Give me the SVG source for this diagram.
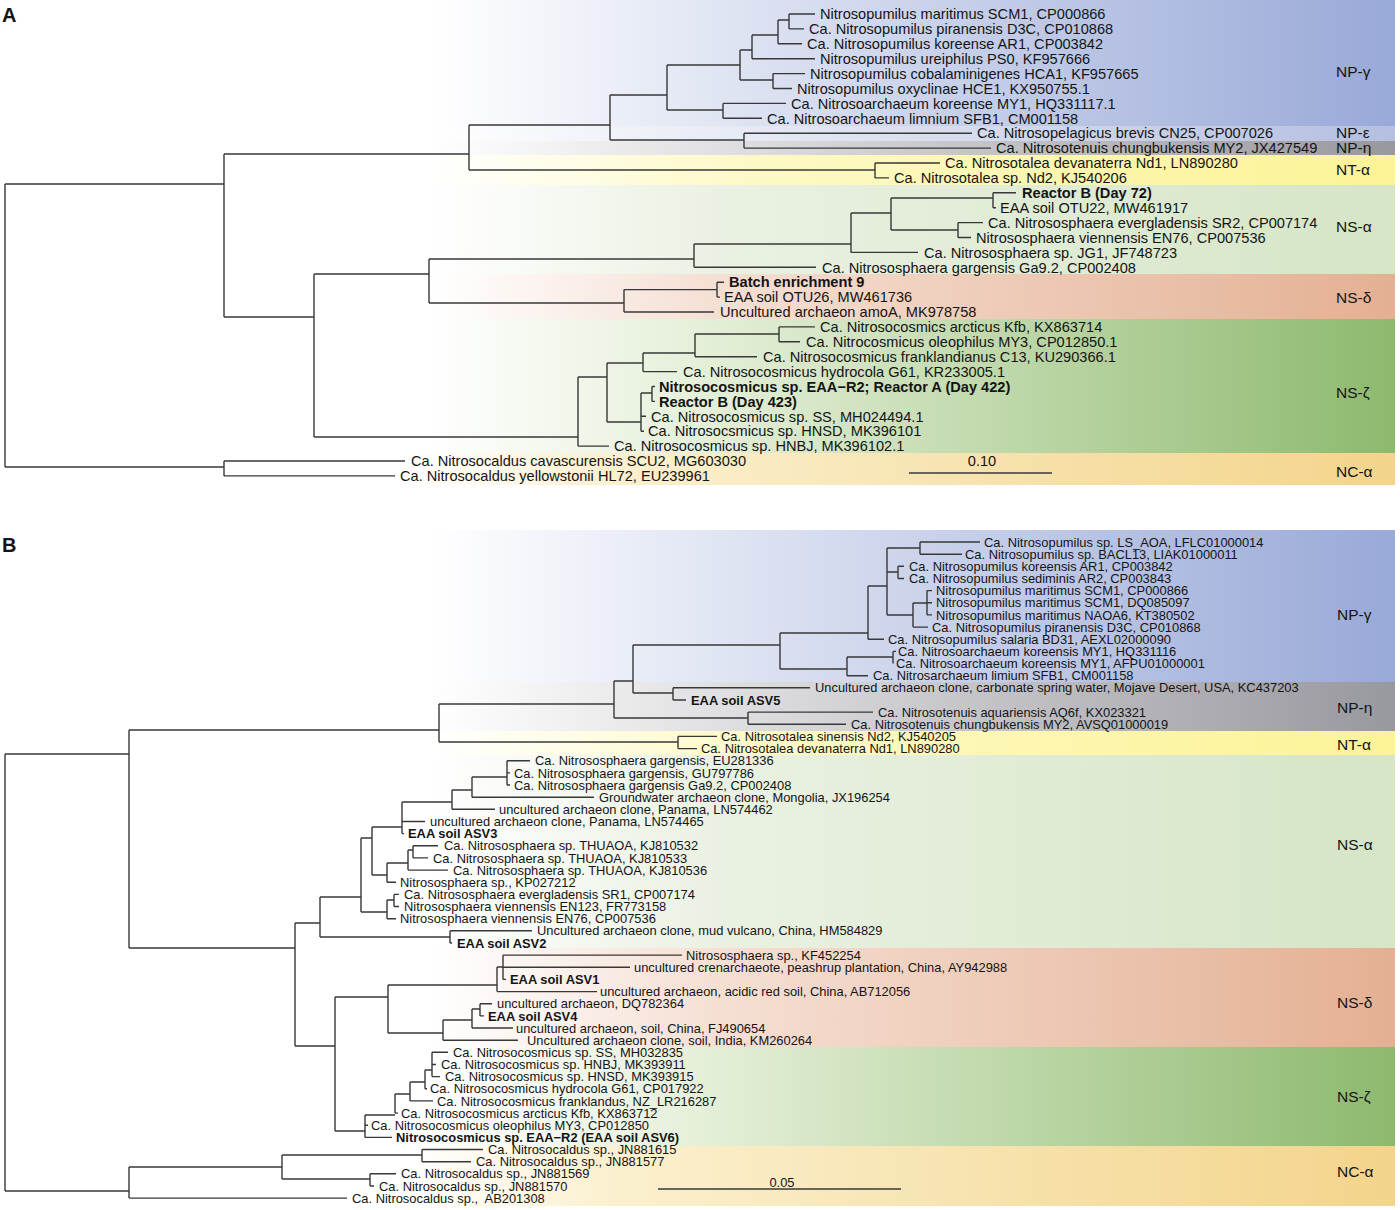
<svg xmlns="http://www.w3.org/2000/svg" width="1400" height="1210" viewBox="0 0 1400 1210">
<style>
text{font-family:"Liberation Sans",Arial,sans-serif;fill:#141414}
.ta{font-size:14.6px}
.tb{font-size:12.9px}
.b{font-weight:bold}
.cl{font-size:15.5px}
.pl{font-size:20px;font-weight:bold}
.br{fill:none;stroke:#383838;stroke-width:1.4}
</style>
<defs>
<linearGradient id="gNPg" gradientUnits="userSpaceOnUse" x1="430" y1="0" x2="1395" y2="0"><stop offset="0" stop-color="#fff"/><stop offset="1" stop-color="#99a9d8"/></linearGradient>
<linearGradient id="gNPe" gradientUnits="userSpaceOnUse" x1="430" y1="0" x2="1395" y2="0"><stop offset="0" stop-color="#fff"/><stop offset="1" stop-color="#b5bfdf"/></linearGradient>
<linearGradient id="gNPh" gradientUnits="userSpaceOnUse" x1="430" y1="0" x2="1395" y2="0"><stop offset="0" stop-color="#fff"/><stop offset="1" stop-color="#98989f"/></linearGradient>
<linearGradient id="gNT" gradientUnits="userSpaceOnUse" x1="430" y1="0" x2="1395" y2="0"><stop offset="0" stop-color="#fff"/><stop offset="0.35" stop-color="#fdf9c4"/><stop offset="1" stop-color="#fcf396"/></linearGradient>
<linearGradient id="gNSa" gradientUnits="userSpaceOnUse" x1="430" y1="0" x2="1395" y2="0"><stop offset="0" stop-color="#fff"/><stop offset="0.3" stop-color="#eaf1e2"/><stop offset="1" stop-color="#d5e5c6"/></linearGradient>
<linearGradient id="gNSd" gradientUnits="userSpaceOnUse" x1="430" y1="0" x2="1395" y2="0"><stop offset="0" stop-color="#fff"/><stop offset="0.3" stop-color="#f5dfd3"/><stop offset="1" stop-color="#e4b093"/></linearGradient>
<linearGradient id="gNSz" gradientUnits="userSpaceOnUse" x1="430" y1="0" x2="1395" y2="0"><stop offset="0" stop-color="#fff"/><stop offset="0.3" stop-color="#e3eed6"/><stop offset="1" stop-color="#8db96e"/></linearGradient>
<linearGradient id="gNC" gradientUnits="userSpaceOnUse" x1="410" y1="0" x2="1395" y2="0"><stop offset="0" stop-color="#fff"/><stop offset="0.2" stop-color="#fbf0cf"/><stop offset="1" stop-color="#f3d48b"/></linearGradient>
</defs>
<rect width="1400" height="1210" fill="#fff"/>

<g id="bands-A">
<rect x="430" y="0" width="965" height="126" fill="url(#gNPg)"/>
<rect x="430" y="126" width="965" height="15" fill="url(#gNPe)"/>
<rect x="430" y="141" width="965" height="14" fill="url(#gNPh)"/>
<rect x="430" y="155" width="965" height="30" fill="url(#gNT)"/>
<rect x="430" y="185" width="965" height="89" fill="url(#gNSa)"/>
<rect x="430" y="274" width="965" height="45" fill="url(#gNSd)"/>
<rect x="430" y="319" width="965" height="134" fill="url(#gNSz)"/>
<rect x="410" y="453" width="985" height="32" fill="url(#gNC)"/>
</g>
<g id="bands-B">
<rect x="420" y="530" width="975" height="152" fill="url(#gNPg)"/>
<rect x="420" y="682" width="975" height="49" fill="url(#gNPh)"/>
<rect x="420" y="731" width="975" height="24" fill="url(#gNT)"/>
<rect x="420" y="755" width="975" height="193" fill="url(#gNSa)"/>
<rect x="420" y="948" width="975" height="99" fill="url(#gNSd)"/>
<rect x="420" y="1047" width="975" height="99" fill="url(#gNSz)"/>
<rect x="410" y="1146" width="985" height="60" fill="url(#gNC)"/>
</g>

<g id="connectors-A" class="br">
<path d="M5,184V467M5,184H224M5,467H224M224,461V475.9M224,461H405M224,475.9H395M224,154V317M224,154H469"/>
<path d="M469,125V170M469,170H875M875,163V177.9M875,163H940M875,177.9H889M469,125H610M610,95V140M610,140H744M744,133.2V148.1M744,133.2H972M744,148.1H991M610,95H667M667,65V110M667,110H723M723,103.4V118.3M723,103.4H786M723,118.3H762M667,65H740M740,50V80M740,80H773M773,73.6V88.5M773,73.6H805M773,88.5H792M740,50H752M752,35V58.7M752,58.7H815M752,35H778M778,20V43.8M778,43.8H802M778,20H789M789,14V28.9M789,14H815M789,28.9H804"/>
<path d="M224,317H314M314,274V437M314,274H429M429,259V303M429,259H694M694,244V267.3M694,267.3H816M694,244H851M851,213V252.4M851,252.4H918M851,213H891M891,198V230M891,198H993M993,192.8V207.7M993,192.8H1016M993,207.7H996M891,230H958M958,222.6V237.5M958,222.6H983M958,237.5H971"/>
<path d="M429,303H624M624,289.6V312M624,289.6H717M717,282.2V297.1M717,282.2H724M717,297.1H720M624,312H714"/>
<path d="M314,437H578M578,377V446.1M578,446.1H609M578,377H607M607,363V422M607,363H643M643,353V371.6M643,371.6H677M643,353H695M695,334V356.7M695,356.7H757M695,334H779M779,326.9V341.8M779,326.9H815M779,341.8H800M607,422H641M641,393V431.2M641,393H652M652,386.5V401.4M652,386.5H655M652,401.4H655M641,416.3H646M641,431.2H644"/>
<path d="M909,473H1052"/>
</g>

<g id="connectors-B" class="br">
<path d="M5,754V1191M5,754H129M5,1191H129"/>
<path d="M129,730V948M129,730H439M439,704V742M439,742H678M678,736.4V748.6M678,736.4H717M678,748.6H697M439,704H614M614,681V718M614,718H748M748,712.1V724.3M748,712.1H873M748,724.3H846M614,681H633M633,645V693M633,693H673M673,687.8V700M673,687.8H810M673,700H686M633,645H780M780,633V669M780,669H847M847,657V675.7M847,675.7H868M847,657H893M893,651.4V663.5M893,651.4H896"/>
<path d="M780,633H868M868,586V639.2M868,639.2H884M868,586H887M887,548V615M887,548H920M920,542V554.2M920,542H980M920,554.2H962M887,572H898M898,566.3V578.5M898,566.3H904M898,578.5H904M887,615H913M913,603V627.1M913,627.1H928M913,603H927M927,590.6V614.9M927,590.6H932M927,602.8H932M927,614.9H932"/>
<path d="M129,948H295M295,923V1046M295,923H320M320,897V937M320,937H450M450,930.8V943M450,930.8H532M450,943H452M320,897H361M361,838V912M361,838H372M372,827V875M372,827H402M402,802V833.6M402,821.5H425M402,833.6H404M402,802H452M452,790V809.3M452,809.3H495M452,790H472M472,777V797.2M472,797.2H594M472,777H507M507,760.7V785M507,760.7H530M507,772.9H510M507,785H510"/>
<path d="M372,875H387M387,863V882.2M387,882.2H396M387,863H408M408,850V870.1M408,870.1H448M408,850H413M413,845.8V857.9M413,845.8H438M413,857.9H428M361,912H387M387,900V918.7M387,918.7H396M387,900H394M394,894.4V906.5M394,894.4H399M394,906.5H399"/>
<path d="M295,1046H335M335,997V1131M335,997H388M388,985V1033M388,985H497M497,967V991.6M497,991.6H597M497,967H503M503,955.1V979.4M503,955.1H682M503,967.3H630M503,979.4H506M388,1033H443M443,1020V1040.2M443,1040.2H518M443,1020H472M472,1009V1028M472,1028H513M472,1009H480M480,1003.7V1015.9M480,1003.7H492M480,1015.9H484"/>
<path d="M335,1131H365M365,1115V1137.4M365,1137.4H392M365,1125.2H368M365,1115H395M395,1094V1113.1M395,1113.1H398M395,1094H410M410,1082V1100.9M410,1100.9H433M410,1082H425M425,1070V1088.8M425,1088.8H427M425,1070H432M432,1052.3V1076.6M432,1052.3H448M432,1064.5H436M432,1076.6H440"/>
<path d="M129,1167V1198.1M129,1198.1H347M129,1167H282M282,1155V1179M282,1155H422M422,1149.5V1161.7M422,1149.5H483M422,1161.7H471M282,1179H370M370,1173.8V1186M370,1173.8H396M370,1186H374"/>
<path d="M658,1189H901"/>
</g>

<g id="panel-labels">
<text class="pl" x="2" y="22">A</text>
<text class="pl" x="2" y="552">B</text>
<text class="ta" x="982" y="466" text-anchor="middle">0.10</text>
<text class="tb" x="782" y="1187" text-anchor="middle">0.05</text>
</g>

<g id="clade-labels">
<text class="cl" x="1336" y="77">NP-γ</text>
<text class="cl" x="1336" y="138">NP-ε</text>
<text class="cl" x="1336" y="153">NP-η</text>
<text class="cl" x="1336" y="175">NT-α</text>
<text class="cl" x="1336" y="232">NS-α</text>
<text class="cl" x="1336" y="303">NS-δ</text>
<text class="cl" x="1336" y="398">NS-ζ</text>
<text class="cl" x="1336" y="477">NC-α</text>
<text class="cl" x="1337" y="620">NP-γ</text>
<text class="cl" x="1337" y="713">NP-η</text>
<text class="cl" x="1337" y="750">NT-α</text>
<text class="cl" x="1337" y="850">NS-α</text>
<text class="cl" x="1337" y="1008">NS-δ</text>
<text class="cl" x="1337" y="1102">NS-ζ</text>
<text class="cl" x="1337" y="1177">NC-α</text>
</g>

<g id="leaves-A">
<g id="a1"><text class="ta" x="820" y="19.2">Nitrosopumilus maritimus SCM1, CP000866</text></g>
<g id="a2"><text class="ta" x="809" y="34.1">Ca. Nitrosopumilus piranensis D3C, CP010868</text></g>
<g id="a3"><text class="ta" x="807" y="49">Ca. Nitrosopumilus koreense AR1, CP003842</text></g>
<g id="a4"><text class="ta" x="820" y="63.9">Nitrosopumilus ureiphilus PS0, KF957666</text></g>
<g id="a5"><text class="ta" x="810" y="78.8">Nitrosopumilus cobalaminigenes HCA1, KF957665</text></g>
<g id="a6"><text class="ta" x="797" y="93.7">Nitrosopumilus oxyclinae HCE1, KX950755.1</text></g>
<g id="a7"><text class="ta" x="791" y="108.6">Ca. Nitrosoarchaeum koreense MY1, HQ331117.1</text></g>
<g id="a8"><text class="ta" x="767" y="123.5">Ca. Nitrosoarchaeum limnium SFB1, CM001158</text></g>
<g id="a9"><text class="ta" x="977" y="138.4">Ca. Nitrosopelagicus brevis CN25, CP007026</text></g>
<g id="a10"><text class="ta" x="996" y="153.3">Ca. Nitrosotenuis chungbukensis MY2, JX427549</text></g>
<g id="a11"><text class="ta" x="945" y="168.2">Ca. Nitrosotalea devanaterra Nd1, LN890280</text></g>
<g id="a12"><text class="ta" x="894" y="183.1">Ca. Nitrosotalea sp. Nd2, KJ540206</text></g>
<g id="a13"><text class="ta b" x="1022" y="198">Reactor B (Day 72)</text></g>
<g id="a14"><text class="ta" x="1000" y="212.9">EAA soil OTU22, MW461917</text></g>
<g id="a15"><text class="ta" x="988" y="227.8">Ca. Nitrososphaera evergladensis SR2, CP007174</text></g>
<g id="a16"><text class="ta" x="976" y="242.7">Nitrososphaera viennensis EN76, CP007536</text></g>
<g id="a17"><text class="ta" x="924" y="257.6">Ca. Nitrososphaera sp. JG1, JF748723</text></g>
<g id="a18"><text class="ta" x="822" y="272.5">Ca. Nitrososphaera gargensis Ga9.2, CP002408</text></g>
<g id="a19"><text class="ta b" x="729" y="287.4">Batch enrichment 9</text></g>
<g id="a20"><text class="ta" x="724" y="302.3">EAA soil OTU26, MW461736</text></g>
<g id="a21"><text class="ta" x="720" y="317.2">Uncultured archaeon amoA, MK978758</text></g>
<g id="a22"><text class="ta" x="820" y="332.1">Ca. Nitrosocosmics arcticus Kfb, KX863714</text></g>
<g id="a23"><text class="ta" x="806" y="347">Ca. Nitrocosmicus oleophilus MY3, CP012850.1</text></g>
<g id="a24"><text class="ta" x="763" y="361.9">Ca. Nitrosocosmicus franklandianus C13, KU290366.1</text></g>
<g id="a25"><text class="ta" x="683" y="376.8">Ca. Nitrosocosmicus hydrocola G61, KR233005.1</text></g>
<g id="a26"><text class="ta b" x="659" y="391.7">Nitrosocosmicus sp. EAA−R2; Reactor A (Day 422)</text></g>
<g id="a27"><text class="ta b" x="659" y="406.6">Reactor B (Day 423)</text></g>
<g id="a28"><text class="ta" x="651" y="421.5">Ca. Nitrosocosmicus sp. SS, MH024494.1</text></g>
<g id="a29"><text class="ta" x="648" y="436.4">Ca. Nitrosocsmicus sp. HNSD, MK396101</text></g>
<g id="a30"><text class="ta" x="614" y="451.3">Ca. Nitrosocosmicus sp. HNBJ, MK396102.1</text></g>
<g id="a31"><text class="ta" x="411" y="466.2">Ca. Nitrosocaldus cavascurensis SCU2, MG603030</text></g>
<g id="a32"><text class="ta" x="400" y="481.1">Ca. Nitrosocaldus yellowstonii HL72, EU239961</text></g>
</g>

<g id="leaves-B">
<g id="b1"><text class="tb" x="984" y="546.6">Ca. Nitrosopumilus sp. LS_AOA, LFLC01000014</text></g>
<g id="b2"><text class="tb" x="965" y="558.8">Ca. Nitrosopumilus sp. BACL13, LIAK01000011</text></g>
<g id="b3"><text class="tb" x="909" y="570.9">Ca. Nitrosopumilus koreensis AR1, CP003842</text></g>
<g id="b4"><text class="tb" x="909" y="583.1">Ca. Nitrosopumilus sediminis AR2, CP003843</text></g>
<g id="b5"><text class="tb" x="936" y="595.2">Nitrosopumilus maritimus SCM1, CP000866</text></g>
<g id="b6"><text class="tb" x="936" y="607.4">Nitrosopumilus maritimus SCM1, DQ085097</text></g>
<g id="b7"><text class="tb" x="936" y="619.5">Nitrosopumilus maritimus NAOA6, KT380502</text></g>
<g id="b8"><text class="tb" x="932" y="631.7">Ca. Nitrosopumilus piranensis D3C, CP010868</text></g>
<g id="b9"><text class="tb" x="888" y="643.8">Ca. Nitrosopumilus salaria BD31, AEXL02000090</text></g>
<g id="b10"><text class="tb" x="898" y="656">Ca. Nitrosoarchaeum koreensis MY1, HQ331116</text></g>
<g id="b11"><text class="tb" x="896" y="668.1">Ca. Nitrosoarchaeum koreensis MY1, AFPU01000001</text></g>
<g id="b12"><text class="tb" x="873" y="680.3">Ca. Nitrosarchaeum limium SFB1, CM001158</text></g>
<g id="b13"><text class="tb" x="815" y="692.4">Uncultured archaeon clone, carbonate spring water, Mojave Desert, USA, KC437203</text></g>
<g id="b14"><text class="tb b" x="691" y="704.6">EAA soil ASV5</text></g>
<g id="b15"><text class="tb" x="878" y="716.7">Ca. Nitrosotenuis aquariensis AQ6f, KX023321</text></g>
<g id="b16"><text class="tb" x="851" y="728.9">Ca. Nitrosotenuis chungbukensis MY2, AVSQ01000019</text></g>
<g id="b17"><text class="tb" x="721" y="741">Ca. Nitrosotalea sinensis Nd2, KJ540205</text></g>
<g id="b18"><text class="tb" x="701" y="753.2">Ca. Nitrosotalea devanaterra Nd1, LN890280</text></g>
<g id="b19"><text class="tb" x="535" y="765.3">Ca. Nitrososphaera gargensis, EU281336</text></g>
<g id="b20"><text class="tb" x="514" y="777.5">Ca. Nitrososphaera gargensis, GU797786</text></g>
<g id="b21"><text class="tb" x="514" y="789.6">Ca. Nitrososphaera gargensis Ga9.2, CP002408</text></g>
<g id="b22"><text class="tb" x="599" y="801.8">Groundwater archaeon clone, Mongolia, JX196254</text></g>
<g id="b23"><text class="tb" x="499" y="813.9">uncultured archaeon clone, Panama, LN574462</text></g>
<g id="b24"><text class="tb" x="430" y="826.1">uncultured archaeon clone, Panama, LN574465</text></g>
<g id="b25"><text class="tb b" x="408" y="838.2">EAA soil ASV3</text></g>
<g id="b26"><text class="tb" x="444" y="850.4">Ca. Nitrososphaera sp. THUAOA, KJ810532</text></g>
<g id="b27"><text class="tb" x="433" y="862.5">Ca. Nitrososphaera sp. THUAOA, KJ810533</text></g>
<g id="b28"><text class="tb" x="453" y="874.7">Ca. Nitrososphaera sp. THUAOA, KJ810536</text></g>
<g id="b29"><text class="tb" x="400" y="886.8">Nitrososphaera sp., KP027212</text></g>
<g id="b30"><text class="tb" x="404" y="899">Ca. Nitrososphaera evergladensis SR1, CP007174</text></g>
<g id="b31"><text class="tb" x="404" y="911.1">Nitrososphaera viennensis EN123, FR773158</text></g>
<g id="b32"><text class="tb" x="400" y="923.3">Nitrososphaera viennensis EN76, CP007536</text></g>
<g id="b33"><text class="tb" x="537" y="935.4">Uncultured archaeon clone, mud vulcano, China, HM584829</text></g>
<g id="b34"><text class="tb b" x="457" y="947.6">EAA soil ASV2</text></g>
<g id="b35"><text class="tb" x="686" y="959.7">Nitrososphaera sp., KF452254</text></g>
<g id="b36"><text class="tb" x="634" y="971.9">uncultured crenarchaeote, peashrup plantation, China, AY942988</text></g>
<g id="b37"><text class="tb b" x="510" y="984">EAA soil ASV1</text></g>
<g id="b38"><text class="tb" x="600" y="996.2">uncultured archaeon, acidic red soil, China, AB712056</text></g>
<g id="b39"><text class="tb" x="497" y="1008.3">uncultured archaeon, DQ782364</text></g>
<g id="b40"><text class="tb b" x="488" y="1020.5">EAA soil ASV4</text></g>
<g id="b41"><text class="tb" x="516" y="1032.6">uncultured archaeon, soil, China, FJ490654</text></g>
<g id="b42"><text class="tb" x="527" y="1044.8">Uncultured archaeon clone, soil, India, KM260264</text></g>
<g id="b43"><text class="tb" x="453" y="1056.9">Ca. Nitrosocosmicus sp. SS, MH032835</text></g>
<g id="b44"><text class="tb" x="441" y="1069.1">Ca. Nitrosocosmicus sp. HNBJ, MK393911</text></g>
<g id="b45"><text class="tb" x="445" y="1081.2">Ca. Nitrosocosmicus sp. HNSD, MK393915</text></g>
<g id="b46"><text class="tb" x="430" y="1093.4">Ca. Nitrosocosmicus hydrocola G61, CP017922</text></g>
<g id="b47"><text class="tb" x="437" y="1105.5">Ca. Nitrosocosmicus franklandus, NZ_LR216287</text></g>
<g id="b48"><text class="tb" x="401" y="1117.7">Ca. Nitrosocosmicus arcticus Kfb, KX863712</text></g>
<g id="b49"><text class="tb" x="371" y="1129.8">Ca. Nitrosocosmicus oleophilus MY3, CP012850</text></g>
<g id="b50"><text class="tb b" x="396" y="1142">Nitrosocosmicus sp. EAA−R2 (EAA soil ASV6)</text></g>
<g id="b51"><text class="tb" x="488" y="1154.1">Ca. Nitrosocaldus sp., JN881615</text></g>
<g id="b52"><text class="tb" x="476" y="1166.3">Ca. Nitrosocaldus sp., JN881577</text></g>
<g id="b53"><text class="tb" x="401" y="1178.4">Ca. Nitrosocaldus sp., JN881569</text></g>
<g id="b54"><text class="tb" x="379" y="1190.6">Ca. Nitrosocaldus sp., JN881570</text></g>
<g id="b55"><text class="tb" x="352" y="1202.7">Ca. Nitrosocaldus sp.,&#160; AB201308</text></g>
</g>
</svg>
